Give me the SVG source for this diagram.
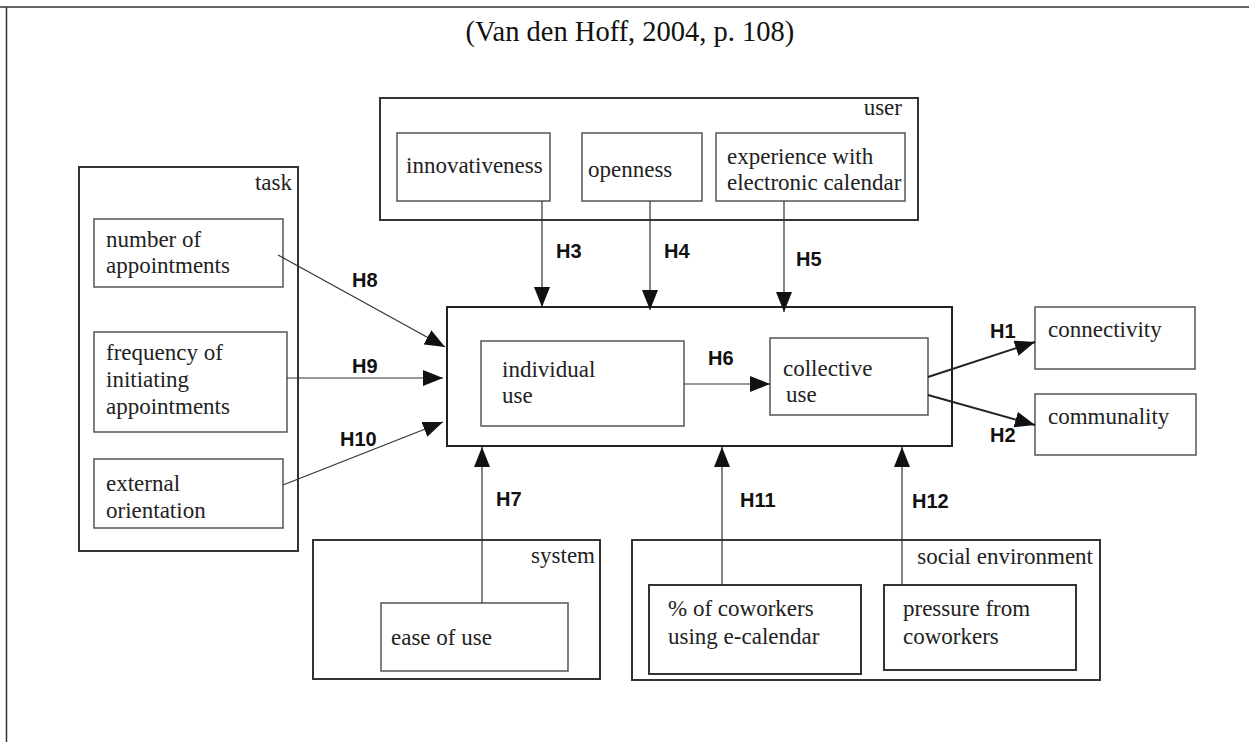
<svg xmlns="http://www.w3.org/2000/svg" width="1249" height="742" viewBox="0 0 1249 742">
<style>
.frame{fill:none;stroke:#333;stroke-width:1.5}
.cont{fill:#fff;stroke:#333;stroke-width:2}
.box{fill:#fff;stroke:#555;stroke-width:1.5}
.main{fill:#fff;stroke:#222;stroke-width:2}
.t{font-family:"Liberation Serif","Times New Roman",serif;font-size:23px;fill:#222}
.lbl{font-family:"Liberation Serif","Times New Roman",serif;font-size:23px;fill:#222;text-anchor:end}
.h{font-family:"Liberation Sans",Arial,sans-serif;font-size:20px;font-weight:bold;fill:#111}
.c{fill:none;stroke:#333;stroke-width:1.2;marker-end:url(#ah)}
.c2{fill:none;stroke:#222;stroke-width:2;marker-end:url(#ah)}
.title{font-family:"Liberation Serif","Times New Roman",serif;font-size:28.5px;fill:#111;text-anchor:middle}
</style>
<defs>
<marker id="ah" markerUnits="userSpaceOnUse" markerWidth="20" markerHeight="16" refX="20" refY="8" orient="auto">
<path d="M0,0 L20,8 L0,16 z" fill="#111"/>
</marker>
</defs>
<rect width="1249" height="742" fill="#fff"/>
<g id="frame">
<line x1="0" y1="7" x2="1249" y2="7" class="frame"/>
<line x1="6.5" y1="7" x2="6.5" y2="742" class="frame"/>
</g>
<text id="title" x="630" y="41" class="title">(Van den Hoff, 2004, p. 108)</text>

<g id="user">
<rect x="380" y="98" width="538" height="122" class="cont"/>
<text x="902" y="115" class="lbl">user</text>
</g>
<g id="innovativeness">
<rect x="397" y="133" width="153" height="68" class="box"/>
<text x="406" y="173" class="t">innovativeness</text>
</g>
<g id="openness">
<rect x="582" y="133" width="120" height="68" class="box"/>
<text x="588" y="177" class="t">openness</text>
</g>
<g id="experience">
<rect x="716" y="133" width="189" height="68" class="box"/>
<text x="727" y="164" class="t">experience with</text>
<text x="727" y="190" class="t">electronic calendar</text>
</g>

<g id="task">
<rect x="79" y="167" width="219" height="384" class="cont"/>
<text x="292" y="190" class="lbl">task</text>
</g>
<g id="number">
<rect x="94" y="219" width="189" height="68" class="box"/>
<text x="106" y="247" class="t">number of</text>
<text x="106" y="273" class="t">appointments</text>
</g>
<g id="frequency">
<rect x="94" y="332" width="193" height="100" class="box"/>
<text x="106" y="360" class="t">frequency of</text>
<text x="106" y="387" class="t">initiating</text>
<text x="106" y="414" class="t">appointments</text>
</g>
<g id="external">
<rect x="94" y="459" width="189" height="69" class="box"/>
<text x="106" y="491" class="t">external</text>
<text x="106" y="518" class="t">orientation</text>
</g>

<g id="use">
<rect x="447" y="307" width="505" height="139" class="main"/>
</g>
<g id="individual">
<rect x="481" y="341" width="203" height="85" class="box"/>
<text x="502" y="377" class="t">individual</text>
<text x="502" y="403" class="t">use</text>
</g>
<g id="collective">
<rect x="770" y="338" width="158" height="77" class="box"/>
<text x="783" y="376" class="t">collective</text>
<text x="786" y="402" class="t">use</text>
</g>

<g id="connectivity">
<rect x="1035" y="307" width="160" height="62" class="box"/>
<text x="1048" y="337" class="t">connectivity</text>
</g>
<g id="communality">
<rect x="1035" y="394" width="161" height="61" class="box"/>
<text x="1048" y="424" class="t">communality</text>
</g>

<g id="system">
<rect x="313" y="540" width="287" height="139" class="cont"/>
<text x="595" y="563" class="lbl">system</text>
</g>
<g id="ease">
<rect x="381" y="603" width="187" height="68" class="box"/>
<text x="391" y="645" class="t">ease of use</text>
</g>

<g id="social">
<rect x="632" y="540" width="468" height="140" class="cont"/>
<text x="1093" y="564" class="lbl">social environment</text>
</g>
<g id="coworkers">
<rect x="649" y="585" width="212" height="89" class="cont"/>
<text x="668" y="616" class="t">% of coworkers</text>
<text x="668" y="644" class="t">using e-calendar</text>
</g>
<g id="pressure">
<rect x="884" y="585" width="192" height="85" class="cont"/>
<text x="903" y="616" class="t">pressure from</text>
<text x="903" y="644" class="t">coworkers</text>
</g>

<g id="connectors">
<line x1="542" y1="201" x2="542" y2="307" class="c"/>
<line x1="650" y1="201" x2="650" y2="310" class="c"/>
<line x1="784" y1="201" x2="784" y2="312" class="c"/>
<line x1="278" y1="255" x2="445" y2="347" class="c"/>
<line x1="287" y1="378" x2="443" y2="378" class="c"/>
<line x1="283" y1="485" x2="443" y2="422" class="c"/>
<line x1="684" y1="384" x2="770" y2="384" class="c"/>
<line x1="928" y1="377" x2="1035" y2="342" class="c2"/>
<line x1="928" y1="395" x2="1035" y2="425" class="c2"/>
<line x1="482" y1="603" x2="482" y2="447" class="c"/>
<line x1="722" y1="585" x2="722" y2="447" class="c"/>
<line x1="902" y1="585" x2="902" y2="447" class="c"/>
<text x="556" y="258" class="h">H3</text>
<text x="664" y="258" class="h">H4</text>
<text x="796" y="266" class="h">H5</text>
<text x="352" y="287" class="h">H8</text>
<text x="352" y="373" class="h">H9</text>
<text x="340" y="446" class="h">H10</text>
<text x="708" y="365" class="h">H6</text>
<text x="990" y="338" class="h">H1</text>
<text x="990" y="442" class="h">H2</text>
<text x="496" y="506" class="h">H7</text>
<text x="740" y="507" class="h">H11</text>
<text x="912" y="508" class="h">H12</text>
</g>
</svg>
